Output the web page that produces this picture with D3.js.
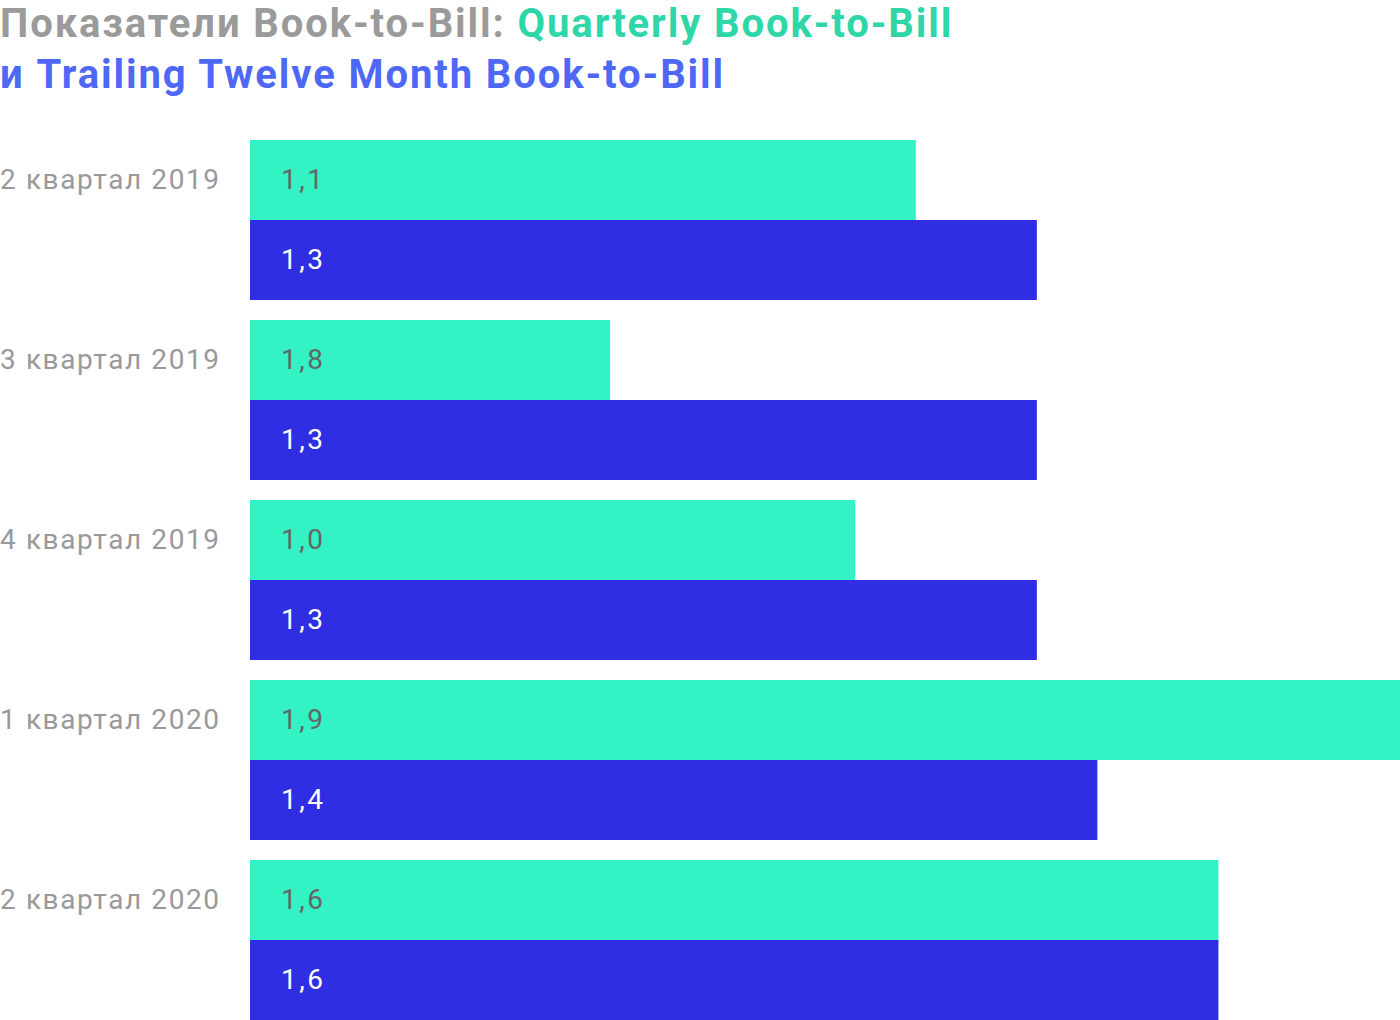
<!DOCTYPE html>
<html><head><meta charset="utf-8">
<script src="https://cdn.jsdelivr.net/npm/d3@7"></script>
<style>body{margin:0;background:#fff;} svg{display:block;}</style>
</head><body>
<script>
const categories = ["2 квартал 2019","3 квартал 2019","4 квартал 2019","1 квартал 2020","2 квартал 2020"];
const quarterlyValues = [1.1, 0.595, 1.0, 1.9, 1.6];
const quarterlyLabels = ["1,1","1,8","1,0","1,9","1,6"];
const ttmValues = [1.3, 1.3, 1.3, 1.4, 1.6];
const ttmLabels = ["1,3","1,3","1,3","1,4","1,6"];

const W = 1400, H = 1020;
const svg = d3.select("body").append("svg").attr("width", W).attr("height", H);
const font = "Roboto, 'Noto Sans', sans-serif";

const t1 = svg.append("text").attr("x", 0).attr("y", 37).attr("font-family", font).attr("font-weight", 700)
  .attr("font-size", 40).attr("letter-spacing", 1.9);
t1.append("tspan").attr("fill", "#9a9a9a").text("Показатели Book-to-Bill: ");
t1.append("tspan").attr("fill", "#2ed6a8").text("Quarterly Book-to-Bill");
svg.append("text").attr("x", 0).attr("y", 88).attr("font-family", font).attr("font-weight", 700)
  .attr("font-size", 40).attr("letter-spacing", 1.9)
  .attr("fill", "#4e68f5").text("и Trailing Twelve Month Book-to-Bill");

const x = d3.scaleLinear().domain([0, 1.9]).range([250, 1400]);
const y = d3.scaleBand().domain(categories).range([140, 1040]).paddingInner(0).paddingOuter(0);
const sub = d3.scaleBand().domain(["q","t"]).range([0, 160]);

const data = categories.map((c, i) => ({c, q: quarterlyValues[i], ql: quarterlyLabels[i], t: ttmValues[i], tl: ttmLabels[i]}));

const g = svg.append("g");
const groups = g.selectAll("g.cat").data(data).join("g").attr("class","cat").attr("transform", d => `translate(0,${y(d.c)})`);

groups.append("rect").attr("x", x(0)).attr("y", sub("q")).attr("height", sub.bandwidth()).attr("width", d => x(d.q) - x(0)).attr("fill", "#33f2c4");
groups.append("rect").attr("x", x(0)).attr("y", sub("t")).attr("height", sub.bandwidth()).attr("width", d => x(d.t) - x(0)).attr("fill", "#2f2ee2");

groups.append("text").attr("x", x(0) + 31).attr("y", sub("q") + sub.bandwidth()/2).attr("dy", "0.31em")
  .attr("font-family", font).attr("font-size", 28).attr("letter-spacing", 2.5).attr("fill", "#666").text(d => d.ql);
groups.append("text").attr("x", x(0) + 31).attr("y", sub("t") + sub.bandwidth()/2).attr("dy", "0.31em")
  .attr("font-family", font).attr("font-size", 28).attr("letter-spacing", 2.5).attr("fill", "#fff").text(d => d.tl);

groups.append("text").attr("x", 0).attr("y", sub("q") + sub.bandwidth()/2).attr("dy", "0.31em")
  .attr("font-family", font).attr("font-size", 28).attr("letter-spacing", 1.6).attr("fill", "#999").text(d => d.c);
</script>
</body></html>
